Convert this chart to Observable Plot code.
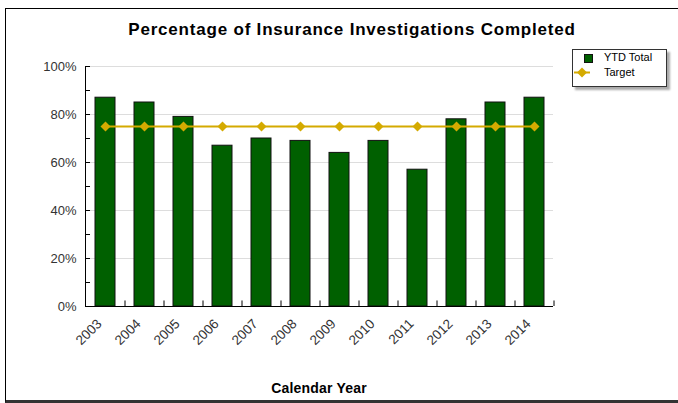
<!DOCTYPE html>
<html>
<head>
<meta charset="utf-8">
<script src="https://cdn.jsdelivr.net/npm/d3@7"></script>
<script src="https://cdn.jsdelivr.net/npm/@observablehq/plot@0.6"></script>
<style>
  html, body { margin: 0; padding: 0; background: #fff; }
  #wrap { position: relative; width: 678px; height: 403px; overflow: hidden; font-family: "Liberation Sans", Arial, sans-serif; }
  #frame { position: absolute; left: 5px; top: 8px; width: 700px; height: 391px; border-left: 1px solid #000; border-top: 1px solid #000; border-bottom: 3px solid #333; }
  #title { position: absolute; left: 0; width: 704px; top: 20px; text-align: center; font-weight: bold; font-size: 17px; letter-spacing: 0.8px; color: #000; }
  #xlabel { position: absolute; left: 0; width: 638px; top: 380px; text-align: center; font-weight: bold; font-size: 14px; letter-spacing: 0.2px; color: #000; }
  #plot { position: absolute; left: 0; top: 0; }
  #legend { position: absolute; left: 572px; top: 49px; width: 93px; height: 36px; border: 1px solid #333; background: #fff; box-shadow: 3px 3px 2px #aaa; font-size: 11px; color: #000; }
  #legend svg { position: absolute; left: 0; top: 0; }
  #legend .lab { position: absolute; left: 31px; }
</style>
</head>
<body>
<div id="wrap">
  <div id="frame"></div>
  <div id="plot"></div>
  <div id="title"></div>
  <div id="xlabel"></div>
  <div id="legend"></div>
</div>
<script>
const years = ["2003","2004","2005","2006","2007","2008","2009","2010","2011","2012","2013","2014"];
const ytdTotal = [87, 85, 79, 67, 70, 69, 64, 69, 57, 78, 85, 87];
const target = [75, 75, 75, 75, 75, 75, 75, 75, 75, 75, 75, 75];
const yMajorTicks = [0, 20, 40, 60, 80, 100];
const yMinorTicks = [0, 10, 20, 30, 40, 50, 60, 70, 80, 90, 100];
const seriesNames = ["YTD Total", "Target"];
const titleText = "Percentage of Insurance Investigations Completed";
const xLabelText = "Calendar Year";

const barColor = "#006000";
const targetColor = "#D4AA00";

const data = years.map((y, i) => ({year: y, total: ytdTotal[i], target: target[i]}));

const chart = Plot.plot({
  width: 678,
  height: 403,
  marginLeft: 85,
  marginRight: 125,
  marginTop: 66,
  marginBottom: 97,
  style: {fontFamily: "Liberation Sans, Arial, sans-serif", background: "transparent"},
  x: {domain: years, paddingInner: 0.5, paddingOuter: 0.25, label: null},
  y: {domain: [0, 100], label: null},
  marks: [
    Plot.gridY(yMajorTicks, {stroke: "#ddd", strokeOpacity: 1}),
    Plot.barY(data, {x: "year", y: "total", fill: barColor, stroke: "#111", strokeWidth: 1}),
    Plot.ruleX(years, {x: d => d, dx: 19.5, y1: 0, y2: 2.3, stroke: "#000"}),
    Plot.axisY(yMajorTicks, {tickSize: 0, tickPadding: 9, tickFormat: d => d + "%", fontSize: 13, color: "#333", label: null, style: {letterSpacing: "0.6px"}}),
    Plot.axisY(yMinorTicks, {tickSize: -5, tickFormat: () => "", label: null, stroke: "#000"}),
    Plot.axisX({tickSize: 0, tickPadding: 15, tickRotate: -45, dx: -6, fontSize: 13.5, color: "#333", label: null, style: {letterSpacing: "0.4px"}}),
    Plot.frame({anchor: "left", stroke: "#000"}),
    Plot.ruleY([0], {stroke: "#000"}),
    Plot.line(data, {x: "year", y: "target", stroke: targetColor, strokeWidth: 2}),
    Plot.dot(data, {x: "year", y: "target", symbol: "diamond2", r: 4.5, fill: targetColor, stroke: "none"})
  ]
});
document.getElementById("plot").appendChild(chart);
document.getElementById("title").textContent = titleText;
document.getElementById("xlabel").textContent = xLabelText;

const legend = document.getElementById("legend");
legend.innerHTML = `
<svg width="93" height="36">
  <rect x="11.5" y="4.5" width="8" height="8" fill="${barColor}" stroke="#111"/>
  <line x1="1" x2="17" y1="22.5" y2="22.5" stroke="${targetColor}" stroke-width="2"/>
  <path d="M9,17.5 L14,22.5 L9,27.5 L4,22.5 Z" fill="${targetColor}"/>
</svg>
<div class="lab" style="top:1px">${seriesNames[0]}</div>
<div class="lab" style="top:16px">${seriesNames[1]}</div>`;
</script>
</body>
</html>
